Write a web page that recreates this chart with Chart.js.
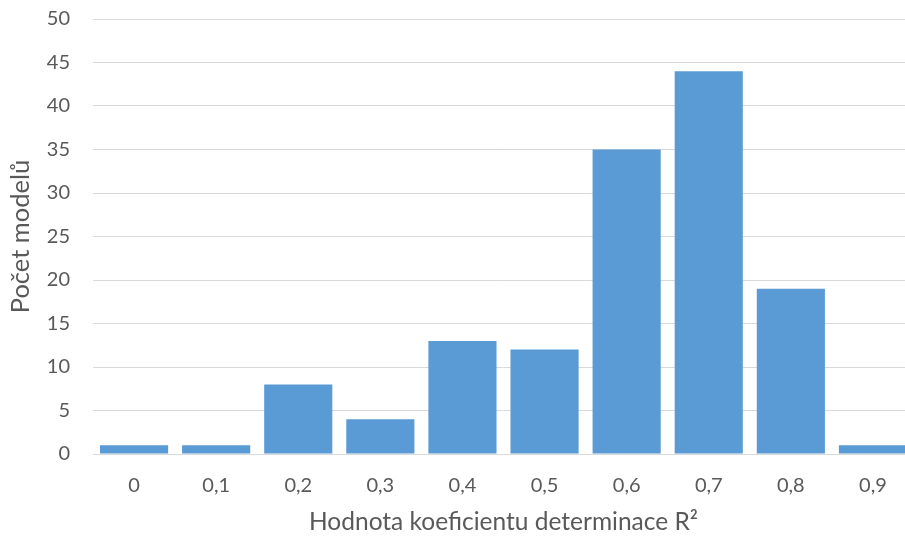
<!DOCTYPE html>
<html>
<head>
<meta charset="utf-8">
<script src="https://cdn.jsdelivr.net/npm/chart.js@4"></script>
<style>
  html, body { margin: 0; padding: 0; overflow: hidden; background: #fff; }
  #wrap { width: 914px; height: 554px; margin-top: -16px; position: relative; }
</style>
</head>
<body>
<div id="wrap"><canvas id="histChart"></canvas></div>
<script>
// data
const categories = ['0', '0,1', '0,2', '0,3', '0,4', '0,5', '0,6', '0,7', '0,8', '0,9'];
const modelCounts = [1, 1, 8, 4, 13, 12, 35, 44, 19, 1];
const yTicks = [0, 5, 10, 15, 20, 25, 30, 35, 40, 45, 50];

const textColor = '#595959';
const fontFamily = 'Lato, "Open Sans", sans-serif';

const ctx = document.getElementById('histChart').getContext('2d');
const histChart = new Chart(ctx, {
    type: 'bar',
    data: {
        labels: categories,
        datasets: [{
            label: 'Počet modelů',
            data: modelCounts,
            backgroundColor: '#5B9BD5',
            borderWidth: 0,
            barPercentage: 0.83,
            categoryPercentage: 1.0
        }]
    },
    options: {
        responsive: true,
        maintainAspectRatio: false,
        animation: false,
        layout: { padding: 0 },
        plugins: {
            legend: { display: false },
            tooltip: { enabled: false }
        },
        scales: {
            x: {
                grid: { display: false, drawTicks: false },
                border: { display: false },
                ticks: {
                    color: textColor,
                    padding: 20,
                    font: { family: fontFamily, size: 20 }
                },
                title: {
                    display: true,
                    text: 'Hodnota koeficientu determinace R²',
                    color: textColor,
                    font: { family: fontFamily, size: 24.5 },
                    padding: { top: 4, bottom: 1 }
                },
                afterFit: function (scale) { scale.height = 84; }
            },
            y: {
                min: 0,
                max: 50,
                afterBuildTicks: function (scale) {
                    scale.ticks = yTicks.map(v => ({ value: v }));
                },
                grid: { color: '#d9d9d9', lineWidth: 1, drawTicks: false },
                border: { display: false },
                ticks: {
                    color: textColor,
                    padding: 23,
                    font: { family: fontFamily, size: 20 }
                },
                title: {
                    display: true,
                    text: 'Počet modelů',
                    color: textColor,
                    font: { family: fontFamily, size: 25.5 },
                    padding: { top: 5, bottom: 4 }
                },
                afterFit: function (scale) { scale.width = 93; }
            }
        }
    }
});
</script>
</body>
</html>
